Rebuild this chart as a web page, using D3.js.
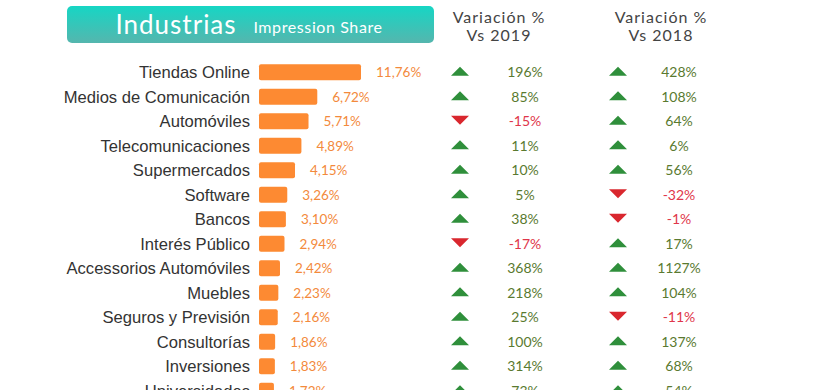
<!DOCTYPE html>
<html>
<head>
<meta charset="utf-8">
<script src="https://cdn.jsdelivr.net/npm/d3@7"></script>
<style>
  body { margin: 0; background: #fff; }
</style>
</head>
<body>
<div id="chart"></div>
<script>
const industries = [
  "Tiendas Online", "Medios de Comunicación", "Automóviles", "Telecomunicaciones",
  "Supermercados", "Software", "Bancos", "Interés Público", "Accessorios Automóviles",
  "Muebles", "Seguros y Previsión", "Consultorías", "Inversiones", "Universidades",
];
const share = [11.76, 6.72, 5.71, 4.89, 4.15, 3.26, 3.10, 2.94, 2.42, 2.23, 2.16, 1.86, 1.83, 1.72];
const vs2019 = [196, 85, -15, 11, 10, 5, 38, -17, 368, 218, 25, 100, 314, 73];
const vs2018 = [428, 108, 64, 6, 56, -32, -1, 17, 1127, 104, -11, 137, 68, 54];

const width = 838, height = 390;
const headFont = "Lato, 'Open Sans', sans-serif";

const svg = d3.select("#chart").append("svg")
  .attr("width", width)
  .attr("height", height);

// header gradient
const grad = svg.append("defs").append("linearGradient")
  .attr("id", "hdr").attr("x1", 0).attr("y1", 0).attr("x2", 0).attr("y2", 1);
grad.append("stop").attr("offset", "0%").attr("stop-color", "#16d6c4");
grad.append("stop").attr("offset", "100%").attr("stop-color", "#55b6ae");

svg.append("rect")
  .attr("x", 67).attr("y", 6).attr("width", 367).attr("height", 37)
  .attr("rx", 5).attr("fill", "url(#hdr)");
svg.append("text").attr("x", 176).attr("y", 34)
  .attr("text-anchor", "middle").attr("fill", "#fff")
  .style("font-family", headFont).style("font-size", "26px")
  .style("letter-spacing", "1px")
  .text("Industrias");
svg.append("text").attr("x", 318).attr("y", 33)
  .attr("text-anchor", "middle").attr("fill", "#fff")
  .style("font-family", headFont).style("font-size", "16px")
  .style("letter-spacing", "0.6px")
  .text("Impression Share");

const colHeads = [["Variación %", "Vs 2019", 499], ["Variación %", "Vs 2018", 661]];
colHeads.forEach(([a, b, cx]) => {
  const t = svg.append("text").attr("text-anchor", "middle").attr("fill", "#444")
    .style("font-family", headFont).style("font-size", "16px")
    .style("letter-spacing", "1px");
  t.append("tspan").attr("x", cx).attr("y", 23).text(a);
  t.append("tspan").attr("x", cx).attr("y", 41).text(b);
});

const rows = industries.map((name, i) => ({
  name, share: share[i], v19: vs2019[i], v18: vs2018[i],
}));

const y = d3.scaleBand().domain(industries).range([60, 60 + 14 * 24.5])
  .paddingInner(0.34).paddingOuter(0.17);
const x = d3.scaleLinear().domain([0, 11.76]).range([259, 361]);
const cy = (d) => y(d.name) + y.bandwidth() / 2;

// industry labels
svg.append("g").selectAll("text").data(rows).join("text")
  .attr("x", 250).attr("y", cy).attr("dy", "0.36em")
  .attr("text-anchor", "end").attr("fill", "#333")
  .style("font-family", "'Liberation Sans', Arial, sans-serif").style("font-size", "16.6px")
  .text((d) => d.name);

// bars
svg.append("g").selectAll("rect").data(rows).join("rect")
  .attr("x", x(0)).attr("y", (d) => y(d.name))
  .attr("width", (d) => x(d.share) - x(0))
  .attr("height", y.bandwidth())
  .attr("rx", 2).attr("fill", "#fd8a32");

const fmt = (v) => v.toFixed(2).replace(".", ",") + "%";
svg.append("g").selectAll("text").data(rows).join("text")
  .attr("x", (d) => x(d.share) + 15).attr("y", cy).attr("dy", "0.36em")
  .attr("fill", "#f38a3c")
  .style("font-family", headFont).style("font-size", "13.5px")
  .text((d) => fmt(d.share));

// variation columns
const cols = [
  { key: "v19", tri: 460, txt: 525 },
  { key: "v18", tri: 618, txt: 679 },
];
cols.forEach((c) => {
  const g = svg.append("g");
  g.selectAll("path").data(rows).join("path")
    .attr("transform", (d) => `translate(${c.tri},${cy(d) - 1})`)
    .attr("d", (d) => d[c.key] >= 0 ? "M-9,4.5L9,4.5L0,-4.5Z" : "M-9,-4.5L9,-4.5L0,4.5Z")
    .attr("fill", (d) => d[c.key] >= 0 ? "#2f8f3b" : "#d9272e");
  g.selectAll("text").data(rows).join("text")
    .attr("x", c.txt).attr("y", cy).attr("dy", "0.36em")
    .attr("text-anchor", "middle")
    .attr("fill", (d) => d[c.key] >= 0 ? "#5a7a30" : "#e0364a")
    .style("font-family", headFont).style("font-size", "14px")
    .text((d) => d[c.key] + "%");
});
</script>
</body>
</html>
